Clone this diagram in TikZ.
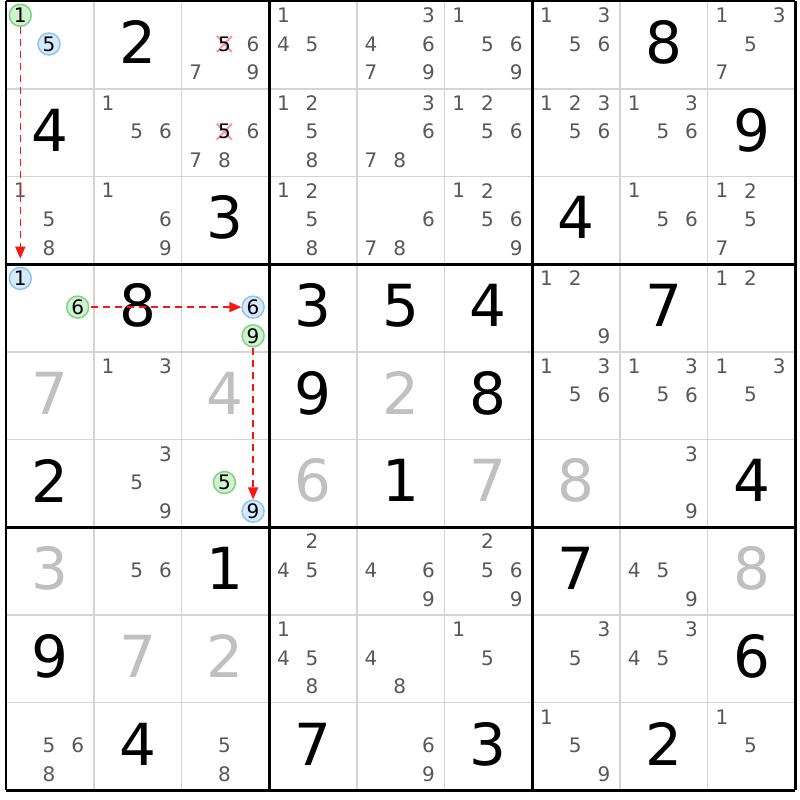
\documentclass[tikz,border=0pt]{standalone}
\usepackage{fontspec}
\setmainfont{DejaVu Sans}
\usetikzlibrary{arrows.meta}
\definecolor{candc}{RGB}{88,88,88}
\definecolor{solvedc}{RGB}{192,192,192}
\definecolor{thinc}{RGB}{212,212,212}
\definecolor{gfill}{RGB}{208,242,208}
\definecolor{gline}{RGB}{128,212,128}
\definecolor{bfill}{RGB}{214,234,252}
\definecolor{bline}{RGB}{142,196,240}
\definecolor{xc}{RGB}{250,150,160}
\definecolor{arrc}{RGB}{250,20,20}
\newcommand\cw{87.7}
\newcommand\bigd[4]{\node[#4] (b#1#2) at ({6+(#2+0.5)*\cw},{1+(#1+0.5)*\cw-2.5}) {#3};}
\newcommand\cands[3]{\foreach \d in {#3} {\node[cand] (n#1#2\d) at ({6+#2*\cw+14.3+28.7*mod(\d-1,3)},{1+#1*\cw+14.3+28.7*floor((\d-1)/3)}) {\d};}}
\newcommand\hcand[5]{\node[#4] (#5) at ({6+#2*\cw+14.3+28.7*mod(#3-1,3)},{1+#1*\cw+14.3+28.7*floor((#3-1)/3)}) {#3};}
\newcommand\xcand[3]{\coordinate (p#1#2) at ({6+#2*\cw+14.3+28.7*mod(#3-1,3)},{1+#1*\cw+14.3+28.7*floor((#3-1)/3)});
  \draw[xline] (p#1#2) ++(-7.5,-8) -- ++(15,16);
  \draw[xline] (p#1#2) ++(7.5,-8) -- ++(-15,16);
  \node[cand,text=black] (x#1#2) at (p#1#2) {#3};}
\tikzset{
  given/.style={inner sep=0pt,font=\fontsize{58}{58}\selectfont,text=black},
  solved/.style={inner sep=0pt,font=\fontsize{58}{58}\selectfont,text=solvedc},
  cand/.style={inner sep=0pt,font=\fontsize{20}{20}\selectfont,text=candc},
  gcirc/.style={circle,draw=gline,fill=gfill,line width=1.5pt,inner sep=0pt,minimum size=22pt,font=\fontsize{20}{20}\selectfont,text=black},
  bcirc/.style={circle,draw=bline,fill=bfill,line width=1.5pt,inner sep=0pt,minimum size=22pt,font=\fontsize{20}{20}\selectfont,text=black},
  xline/.style={draw=xc,line width=2pt},
  arr/.style={draw=arrc,line width=1.5pt,dash pattern=on 7pt off 5pt,-{Triangle[length=12pt,width=10pt]}},
  thin/.style={draw=thinc,line width=1.6pt},
  thick/.style={draw=black,line width=2.8pt}
}
\begin{document}
\begin{tikzpicture}[x=1pt,y=-1pt]
\useasboundingbox (0,0) rectangle (800,800);
\fill[white] (0,0) rectangle (800,800);
% thin grid lines
\foreach \i in {1,2,4,5,7,8} {
  \draw[thin] ({6+\i*\cw},1) -- ({6+\i*\cw},{1+9*\cw});
  \draw[thin] (6,{1+\i*\cw}) -- ({6+9*\cw},{1+\i*\cw});
}
% row 0
\hcand{0}{0}{1}{gcirc}{g00a}
\hcand{0}{0}{5}{bcirc}{b00e}
\bigd{0}{1}{2}{given}
\xcand{0}{2}{5}
\cands{0}{2}{6,7,9}
\cands{0}{3}{1,4,5}
\cands{0}{4}{3,4,6,7,9}
\cands{0}{5}{1,5,6,9}
\cands{0}{6}{1,3,5,6}
\bigd{0}{7}{8}{given}
\cands{0}{8}{1,3,5,7}
% row 1
\bigd{1}{0}{4}{given}
\cands{1}{1}{1,5,6}
\xcand{1}{2}{5}
\cands{1}{2}{6,7,8}
\cands{1}{3}{1,2,5,8}
\cands{1}{4}{3,6,7,8}
\cands{1}{5}{1,2,5,6}
\cands{1}{6}{1,2,3,5,6}
\cands{1}{7}{1,3,5,6}
\bigd{1}{8}{9}{given}
% row 2
\cands{2}{0}{1,5,8}
\cands{2}{1}{1,6,9}
\bigd{2}{2}{3}{given}
\cands{2}{3}{1,2,5,8}
\cands{2}{4}{6,7,8}
\cands{2}{5}{1,2,5,6,9}
\bigd{2}{6}{4}{given}
\cands{2}{7}{1,5,6}
\cands{2}{8}{1,2,5,7}
% row 3
\hcand{3}{0}{1}{bcirc}{b30a}
\hcand{3}{0}{6}{gcirc}{g30f}
\bigd{3}{1}{8}{given}
\hcand{3}{2}{6}{bcirc}{b32f}
\hcand{3}{2}{9}{gcirc}{g32i}
\bigd{3}{3}{3}{given}
\bigd{3}{4}{5}{given}
\bigd{3}{5}{4}{given}
\cands{3}{6}{1,2,9}
\bigd{3}{7}{7}{given}
\cands{3}{8}{1,2}
% row 4
\bigd{4}{0}{7}{solved}
\cands{4}{1}{1,3}
\bigd{4}{2}{4}{solved}
\bigd{4}{3}{9}{given}
\bigd{4}{4}{2}{solved}
\bigd{4}{5}{8}{given}
\cands{4}{6}{1,3,5,6}
\cands{4}{7}{1,3,5,6}
\cands{4}{8}{1,3,5}
% row 5
\bigd{5}{0}{2}{given}
\cands{5}{1}{3,5,9}
\hcand{5}{2}{5}{gcirc}{g52e}
\hcand{5}{2}{9}{bcirc}{b52i}
\bigd{5}{3}{6}{solved}
\bigd{5}{4}{1}{given}
\bigd{5}{5}{7}{solved}
\bigd{5}{6}{8}{solved}
\cands{5}{7}{3,9}
\bigd{5}{8}{4}{given}
% row 6
\bigd{6}{0}{3}{solved}
\cands{6}{1}{5,6}
\bigd{6}{2}{1}{given}
\cands{6}{3}{2,4,5}
\cands{6}{4}{4,6,9}
\cands{6}{5}{2,5,6,9}
\bigd{6}{6}{7}{given}
\cands{6}{7}{4,5,9}
\bigd{6}{8}{8}{solved}
% row 7
\bigd{7}{0}{9}{given}
\bigd{7}{1}{7}{solved}
\bigd{7}{2}{2}{solved}
\cands{7}{3}{1,4,5,8}
\cands{7}{4}{4,8}
\cands{7}{5}{1,5}
\cands{7}{6}{3,5}
\cands{7}{7}{3,4,5}
\bigd{7}{8}{6}{given}
% row 8
\cands{8}{0}{5,6,8}
\bigd{8}{1}{4}{given}
\cands{8}{2}{5,8}
\bigd{8}{3}{7}{given}
\cands{8}{4}{6,9}
\bigd{8}{5}{3}{given}
\cands{8}{6}{1,5,9}
\bigd{8}{7}{2}{given}
\cands{8}{8}{1,5}
% thick lines
\foreach \i in {0,3,6,9} {
  \draw[thick] ({6+\i*\cw},1) -- ({6+\i*\cw},{1+9*\cw});
  \draw[thick] (6,{1+\i*\cw}) -- ({6+9*\cw},{1+\i*\cw});
}
% arrows
\draw[arr,shorten >=8pt] (g00a) -- (b30a);
\draw[arr,shorten <=2pt] (g30f) -- (b32f);
\draw[arr] (g32i) -- (b52i);
\end{tikzpicture}
\end{document}
